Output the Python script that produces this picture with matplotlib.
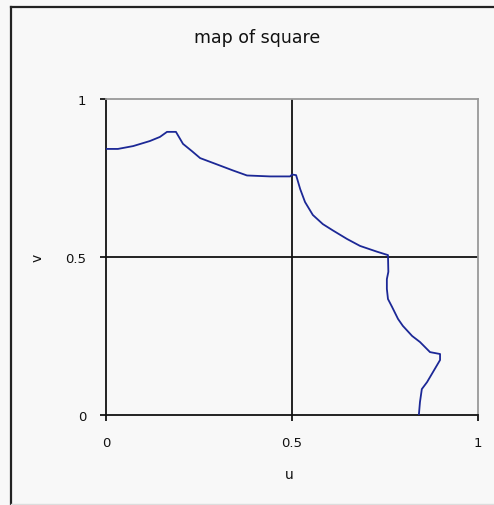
import matplotlib
matplotlib.use('Agg')
import matplotlib.pyplot as plt
from matplotlib.lines import Line2D

# boundary of the unit square after the mapping
u = [0.000, 0.032, 0.073, 0.118, 0.145, 0.164, 0.188, 0.207, 0.231, 0.253,
     0.296, 0.341, 0.379, 0.441, 0.495, 0.500, 0.511, 0.522, 0.535, 0.556,
     0.583, 0.610, 0.648, 0.683, 0.728, 0.758, 0.759, 0.755, 0.755, 0.758,
     0.769, 0.785, 0.798, 0.823, 0.844, 0.871, 0.898, 0.898, 0.879, 0.863,
     0.849, 0.844, 0.841]
v = [0.842, 0.842, 0.851, 0.867, 0.880, 0.896, 0.896, 0.858, 0.835, 0.813,
     0.794, 0.774, 0.758, 0.755, 0.755, 0.761, 0.759, 0.715, 0.674, 0.633,
     0.604, 0.584, 0.557, 0.535, 0.517, 0.506, 0.453, 0.430, 0.399, 0.367,
     0.342, 0.304, 0.282, 0.250, 0.231, 0.199, 0.193, 0.174, 0.136, 0.104,
     0.082, 0.041, 0.000]

ticks = [0, 0.5, 1]
tick_labels = ['0', '0.5', '1']

bg = '#f8f8f8'
ink = '#111111'
fig = plt.figure(figsize=(4.94, 5.06), dpi=100, facecolor=bg)
ax = fig.add_axes([106 / 494, 1 - 416 / 506, 372 / 494, 316 / 506], facecolor=bg)

ax.plot(u, v, color='#1c2896', lw=1.3, zorder=3)

ax.set_xlim(0, 1)
ax.set_ylim(0, 1)
ax.set_xticks(ticks)
ax.set_xticklabels(tick_labels)
ax.set_yticks(ticks)
ax.set_yticklabels(tick_labels)
ax.tick_params(direction='out', length=4, width=1.2, color='black',
               labelsize=9.5, labelcolor=ink)
ax.tick_params(axis='x', pad=11)
ax.tick_params(axis='y', pad=10)

ax.axvline(0.5, color=ink, lw=1.3, zorder=2)
ax.axhline(0.5, color=ink, lw=1.3, zorder=2)

for side in ['left', 'bottom']:
    ax.spines[side].set_color(ink)
    ax.spines[side].set_linewidth(1.3)
for side in ['top', 'right']:
    ax.spines[side].set_color('#999999')
    ax.spines[side].set_linewidth(1.3)

fig.text(257 / 494, 1 - 38 / 506, 'map of square', ha='center', va='center',
         fontsize=12.5, color=ink)
fig.text(289 / 494, 1 - 475 / 506, 'u', ha='center', va='center',
         fontsize=10, color=ink)
fig.text(38 / 494, 1 - 258 / 506, 'v', ha='center', va='center',
         fontsize=10, color=ink, rotation=90)

# chart frame
fig.add_artist(Line2D([11 / 494, 11 / 494], [0, 1 - 8 / 506],
                      transform=fig.transFigure, color='#222222', lw=1.6))
fig.add_artist(Line2D([11 / 494, 1], [1 - 8 / 506, 1 - 8 / 506],
                      transform=fig.transFigure, color='#222222', lw=1.6))
fig.add_artist(Line2D([11 / 494, 1], [1 / 506, 1 / 506],
                      transform=fig.transFigure, color='#dddddd', lw=1.0))

fig.savefig('out.png', dpi=100, facecolor=bg)
